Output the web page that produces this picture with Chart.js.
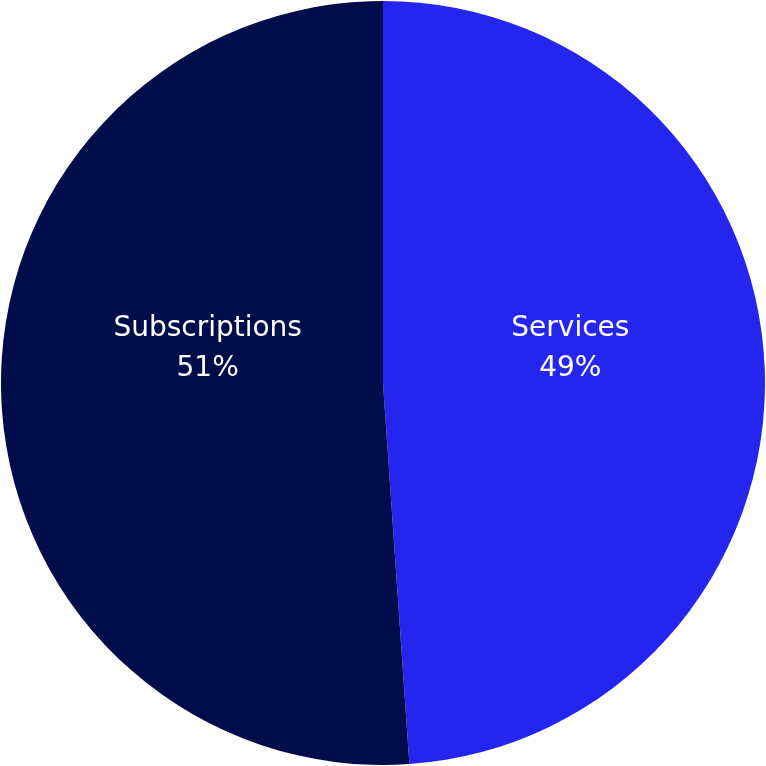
<!DOCTYPE html>
<html>
<head>
<meta charset="utf-8">
<script src="https://cdn.jsdelivr.net/npm/chart.js@4"></script>
<style>
  html, body { margin: 0; padding: 0; background: #fff; }
  #wrap { width: 766px; height: 766px; }
</style>
</head>
<body>
<div id="wrap"><canvas id="pieChart"></canvas></div>
<script>
const labels = ["Services", "Subscriptions"];
const values = [48.9, 51.1];
const colors = ["#2426F0", "#010C4B"];

// draws "label / percent" inside each slice
const sliceLabels = {
  id: "sliceLabels",
  afterDatasetsDraw(chart) {
    const ctx = chart.ctx;
    const meta = chart.getDatasetMeta(0);
    const total = values.reduce((a, b) => a + b, 0);
    ctx.save();
    ctx.fillStyle = "#fff";
    ctx.font = "28px DejaVu Sans, Verdana, sans-serif";
    ctx.textAlign = "center";
    ctx.textBaseline = "middle";
    meta.data.forEach(function (arc, i) {
      const mid = (arc.startAngle + arc.endAngle) / 2;
      const d = arc.outerRadius * 0.475;
      const x = arc.x + Math.cos(mid) * d + 6;
      const y = arc.y - 34;
      const pct = Math.round(values[i] / total * 100) + "%";
      ctx.fillText(labels[i], x, y - 20);
      ctx.fillText(pct, x, y + 20);
    });
    ctx.restore();
  }
};

new Chart(document.getElementById("pieChart"), {
  type: "pie",
  data: {
    labels: labels,
    datasets: [{
      data: values,
      backgroundColor: colors,
      borderWidth: 0
    }]
  },
  options: {
    responsive: true,
    maintainAspectRatio: false,
    animation: false,
    layout: { padding: 1 },
    plugins: {
      legend: { display: false },
      tooltip: { enabled: false }
    }
  },
  plugins: [sliceLabels]
});
</script>
</body>
</html>
